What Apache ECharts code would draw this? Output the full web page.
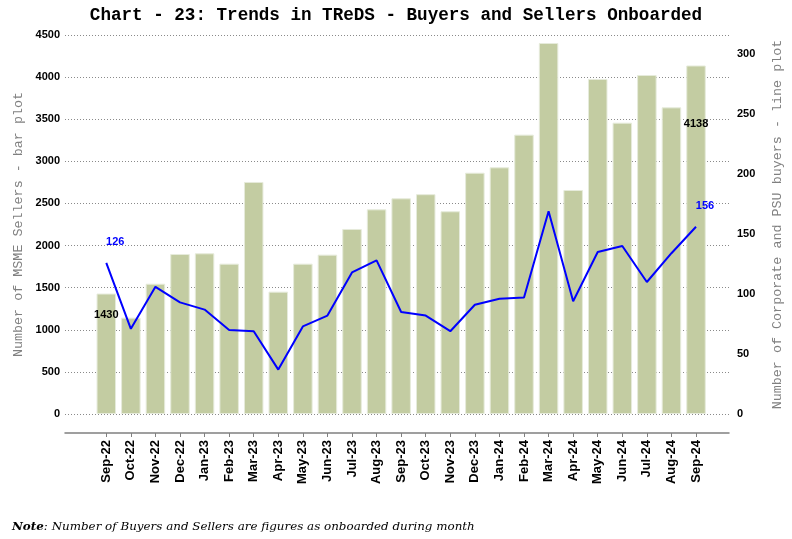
<!DOCTYPE html>
<html>
<head>
<meta charset="utf-8">
<script src="https://cdn.jsdelivr.net/npm/echarts@6/dist/echarts.min.js"></script>
<style>html,body{margin:0;padding:0;background:#fff}#c{width:792px;height:539px}</style>
</head>
<body>
<div id="c"></div>
<script>
const categories = ['Sep-22','Oct-22','Nov-22','Dec-22','Jan-23','Feb-23','Mar-23','Apr-23','May-23','Jun-23','Jul-23','Aug-23','Sep-23','Oct-23','Nov-23','Dec-23','Jan-24','Feb-24','Mar-24','Apr-24','May-24','Jun-24','Jul-24','Aug-24','Sep-24'];
const sellers = [1430,1144,1547,1900,1908,1785,2755,1453,1785,1892,2197,2430,2561,2610,2407,2865,2929,3317,4405,2660,3978,3459,4025,3641,4138];
const buyers = [126,71,106,93,87,70,69,37,73,82,118,128,85,82,69,91,96,97,169,94,135,140,110,134,156];
const leftTicks = [0,500,1000,1500,2000,2500,3000,3500,4000,4500];
const rightTicks = [0,50,100,150,200,250,300];
const titleText = 'Chart - 23: Trends in TReDS - Buyers and Sellers Onboarded';
const leftName = 'Number of MSME Sellers - bar plot';
const rightName = 'Number of Corporate and PSU buyers - line plot';
const noteBold = 'Note';
const noteRest = ': Number of Buyers and Sellers are figures as onboarded during month';

const LMAX = leftTicks[leftTicks.length-1];
const RMAX = 315.83;
const last = categories.length - 1;

const barData = sellers.map((v, i) => {
  const d = { value: v };
  if (i === 0) d.label = { show: true, position: 'top', offset: [0, 32] };
  if (i === last) d.label = { show: true, position: 'top', offset: [0, 69] };
  return d;
});
const lineData = buyers.map((v, i) => {
  const d = { value: v };
  if (i === 0 || i === last) d.label = { show: true, position: 'top', offset: [9, -10] };
  return d;
});

const chart = echarts.init(document.getElementById('c'), null, { renderer: 'canvas' });
chart.setOption({
  animation: false,
  backgroundColor: '#ffffff',
  title: [
    { text: titleText, left: 'center', top: 2,
      textStyle: { fontFamily: 'Liberation Mono', fontWeight: 'bold', fontSize: 17.6, color: '#000' } },
    { text: '{b|' + noteBold + '}{i|' + noteRest + '}', left: 7, top: 516,
      textStyle: { fontWeight: 'normal', rich: {
        b: { fontFamily: 'DejaVu Serif', fontStyle: 'italic', fontWeight: 'bold', fontSize: 11.9, color: '#000' },
        i: { fontFamily: 'DejaVu Serif', fontStyle: 'italic', fontWeight: 'normal', fontSize: 11.9, color: '#000' } } } }
  ],
  grid: [
    { left: 65, right: 56, top: 35, bottom: 125 },
    { left: 94, right: 83.7, top: 35, bottom: 125 }
  ],
  xAxis: [
    { type: 'value', gridIndex: 0, min: 0, max: 1, offset: 19,
      axisLine: { show: true, onZero: false, lineStyle: { color: '#808080', width: 1.5 } },
      axisTick: { show: false }, axisLabel: { show: false }, splitLine: { show: false } },
    { type: 'category', gridIndex: 1, data: categories, offset: 19,
      axisLine: { show: false, onZero: false },
      axisTick: { show: true, alignWithLabel: true, length: 4, lineStyle: { color: '#808080' } },
      axisLabel: { interval: 0, rotate: 90, margin: 7, fontFamily: 'Liberation Sans', fontWeight: 'bold', fontSize: 13, color: '#000' } }
  ],
  yAxis: [
    { type: 'value', gridIndex: 0, min: 0, max: LMAX, interval: 500,
      name: leftName, nameLocation: 'middle', nameRotate: 90, nameGap: 36,
      nameTextStyle: { fontFamily: 'Liberation Mono', fontSize: 13.4, color: '#808080' },
      axisLine: { show: false }, axisTick: { show: false },
      axisLabel: { margin: 5, fontFamily: 'Liberation Sans', fontWeight: 'bold', fontSize: 11, color: '#000',
        formatter: v => String(v) },
      splitLine: { show: true, lineStyle: { type: [1, 2], color: '#8a8a8a', width: 1 } } },
    { type: 'value', gridIndex: 0, position: 'right', min: 0, max: RMAX, interval: 50,
      name: rightName, nameLocation: 'middle', nameRotate: 90, nameGap: 42,
      nameTextStyle: { fontFamily: 'Liberation Mono', fontSize: 13.4, color: '#808080' },
      axisLine: { show: false }, axisTick: { show: false },
      axisLabel: { margin: 8, fontFamily: 'Liberation Sans', fontWeight: 'bold', fontSize: 11, color: '#000',
        formatter: v => (rightTicks.indexOf(v) >= 0 ? String(v) : '') },
      splitLine: { show: false } },
    { type: 'value', gridIndex: 1, min: 0, max: LMAX, show: false },
    { type: 'value', gridIndex: 1, min: 0, max: RMAX, show: false, position: 'right' }
  ],
  series: [
    { type: 'bar', xAxisIndex: 1, yAxisIndex: 2, data: barData, barWidth: 19.5,
      itemStyle: { color: '#c3cca2', borderColor: '#e6ebdb', borderWidth: 1 },
      label: { show: false, fontFamily: 'Liberation Sans', fontWeight: 'bold', fontSize: 11, color: '#000' } },
    { type: 'line', xAxisIndex: 1, yAxisIndex: 3, data: lineData,
      symbol: 'circle', symbolSize: 0, showSymbol: true,
      lineStyle: { color: '#0000ff', width: 2 }, itemStyle: { color: '#0000ff' },
      label: { show: false, fontFamily: 'Liberation Sans', fontWeight: 'bold', fontSize: 11, color: '#0000ff' } }
  ]
});
</script>
</body>
</html>
